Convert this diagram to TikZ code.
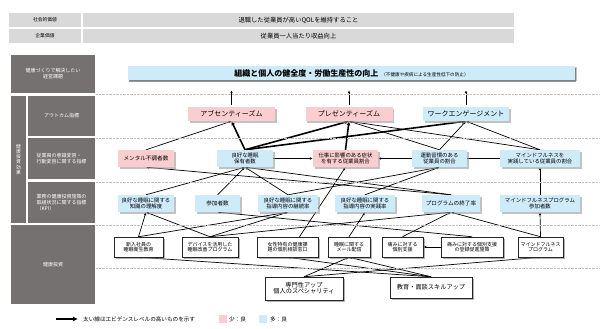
\documentclass[tikz,border=0pt]{standalone}
\usepackage{fontspec}
\setmainfont{Noto Sans CJK JP}
\usetikzlibrary{arrows.meta,shadows,backgrounds}
\definecolor{lowgood}{RGB}{250,206,206}
\definecolor{highgood}{RGB}{206,235,250}
\definecolor{panel}{RGB}{118,113,113}
\definecolor{rowgray}{RGB}{217,217,217}
\newcommand{\jfs}[1]{\fontsize{#1}{#1}\selectfont}
\newcommand{\jfl}[2]{\fontsize{#1}{#2}\selectfont}

\begin{document}
\begin{tikzpicture}[x=1pt, y=-1pt,
  cell/.style={fill=rowgray, inner sep=0pt, minimum height=14pt},
  side/.style={fill=panel, text=white, inner sep=0pt, align=center, font=\jfl{5}{6.2}},
  lowbox/.style={fill=lowgood, inner sep=0pt, align=center,
    drop shadow={shadow xshift=1.5pt, shadow yshift=-1.5pt, fill=black!40, opacity=.6}},
  highbox/.style={fill=highgood, inner sep=0pt, align=center,
    drop shadow={shadow xshift=1.5pt, shadow yshift=-1.5pt, fill=black!40, opacity=.6}},
  invest/.style={draw=black!85, line width=.5pt, fill=white, inner sep=0pt, align=center,
    font=\jfs{5}, drop shadow={shadow xshift=1.5pt, shadow yshift=-1.5pt, fill=black!50, opacity=.6}},
  sep/.style={densely dotted, black!25, line width=.4pt},
  arr/.style={-{Latex[length=3pt,width=2.6pt]}, line width=.7pt},
  thickarr/.style={-{Latex[length=4pt,width=4pt]}, line width=1.6pt}]

\useasboundingbox (0,0) rectangle (608,329);

% value rows
\node[cell, minimum width=72pt, font=\jfs{4.8}] (socval) at (45,20) {社会的価値};
\node[cell, minimum width=431pt, font=\jfs{6.3}] (socgoal) at (298.5,20) {退職した従業員が高いQOLを維持すること};
\node[cell, minimum width=72pt, font=\jfs{4.8}] (corpval) at (45,36) {企業価値};
\node[cell, minimum width=431pt, font=\jfs{6.3}] (corpgoal) at (298.5,36) {従業員一人当たり収益向上};

% side panel
\node[side, minimum width=84pt, minimum height=38pt] (issue) at (53,74) {健康づくりで解決したい\\経営課題};
\node[side, minimum width=15pt, minimum height=127pt, font=\jfl{4.8}{5.2}] (effect) at (18.5,159.5)
  {健\\康\\投\\資\\効\\果};
\node[side, minimum width=67pt, minimum height=40pt] (outlbl) at (61.5,116) {アウトカム指標};
\node[side, minimum width=67pt, minimum height=41pt, align=left] (behlbl) at (61.5,158.5)
  {従業員の意識変容・\\行動変容に関する指標};
\node[side, minimum width=67pt, minimum height=41pt, align=left] (kpilbl) at (61.5,202.5)
  {業務の健康投資施策の\\取組状況に関する指標\\（KPI）};
\node[side, minimum width=84pt, minimum height=79pt] (invlbl) at (53,264.5) {健康投資};

% separators
\foreach \yy in {94,138,182,225,268}
  \draw[sep] (96,\yy) -- (600,\yy);

% management issue
\node[highbox, minimum width=447pt, minimum height=14pt,
  drop shadow={shadow xshift=1pt, shadow yshift=-2.5pt, fill=black!60, opacity=.7}] (banner) at (351.5,73)
  {{\jfs{8}\bfseries 組織と個人の健全度・労働生産性の向上}\hspace{3pt}{\jfs{4.6}（不健康や疾病による生産性低下の防止）}};

% outcomes
\node[lowbox, minimum width=87pt, minimum height=14pt, font=\jfs{7}] (absent) at (231.5,114) {アブセンティーズム};
\node[lowbox, minimum width=87pt, minimum height=14pt, font=\jfs{7}] (present) at (349,114) {プレゼンティーズム};
\node[highbox, minimum width=86pt, minimum height=14pt, font=\jfs{7}] (engage) at (466,114) {ワークエンゲージメント};

% behaviour
\node[lowbox, minimum width=56pt, minimum height=17pt, font=\jfs{5.6}] (mental) at (146,158.5) {メンタル不調者数};
\node[highbox, minimum width=56pt, minimum height=17pt, font=\jfs{5.4}] (sleepok) at (245,158.5) {良好な睡眠\\保有者数};
\node[lowbox, minimum width=65pt, minimum height=17pt, font=\jfs{5.4}] (symptom) at (345.5,158.5) {仕事に影響のある症状\\を有する従業員割合};
\node[highbox, minimum width=55pt, minimum height=17pt, font=\jfs{5.4}] (exercise) at (439.5,158.5) {運動習慣のある\\従業員の割合};
\node[highbox, minimum width=80pt, minimum height=17pt, font=\jfs{5.4}] (mindprac) at (540,158.5) {マインドフルネスを\\実践している従業員の割合};

% KPI
\node[highbox, minimum width=56pt, minimum height=17pt, font=\jfs{5.4}] (knowledge) at (146,203.5) {良好な睡眠に関する\\知識の理解度};
\node[highbox, minimum width=45pt, minimum height=17pt, font=\jfs{5.6}] (partic) at (217.5,203.5) {参加者数};
\node[highbox, minimum width=60pt, minimum height=17pt, font=\jfs{5.4}] (contin) at (288,203.5) {良好な睡眠に関する\\指導内容の継続率};
\node[highbox, minimum width=60pt, minimum height=17pt, font=\jfs{5.4}] (practice) at (365,203.5) {良好な睡眠に関する\\指導内容の実践率};
\node[highbox, minimum width=58pt, minimum height=17pt, font=\jfs{5.6}] (finish) at (451,203.5) {プログラムの終了率};
\node[highbox, minimum width=80pt, minimum height=17pt, font=\jfs{5.4}] (mindpart) at (540,203.5) {マインドフルネスプログラム\\参加者数};

% investment
\node[invest, minimum width=49pt, minimum height=20pt] (newhire) at (138.5,247) {新入社員の\\睡眠衛生教育};
\node[invest, minimum width=56pt, minimum height=20pt] (device) at (210,247) {デバイスを活用した\\睡眠改善プログラム};
\node[invest, minimum width=61pt, minimum height=20pt] (women) at (287.5,247) {女性特有の健康課\\題の個別相談窓口};
\node[invest, minimum width=42pt, minimum height=20pt] (mail) at (349,247) {睡眠に関する\\メール配信};
\node[invest, minimum width=41pt, minimum height=20pt] (painsup) at (402.5,247) {痛みに対する\\個別支援};
\node[invest, minimum width=62pt, minimum height=20pt] (painreg) at (472,247) {痛みに対する個別支援\\の登録促進施策};
\node[invest, minimum width=45pt, minimum height=20pt] (mindprog) at (540.5,247) {マインドフルネス\\プログラム};

\node[invest, minimum width=78pt, minimum height=23pt, font=\jfs{6.2}] (expert) at (304,288.5) {専門性アップ\\個人のスペシャリティ};
\node[invest, minimum width=82pt, minimum height=21pt, font=\jfs{6.2}] (skill) at (431,287.5) {教育・面談スキルアップ};

% legend
\coordinate (legtail) at (56,319);
\coordinate (leghead) at (78,319);
\draw[-{Latex[length=5pt,width=5pt]}, line width=1.8pt] (legtail) -- (leghead);
\node[anchor=west, inner sep=0pt, font=\jfs{5.6}] (legtext) at (83,319) {太い線はエビデンスレベルの高いものを示す};
\node[fill=lowgood, minimum size=8pt, inner sep=0pt] (legpink) at (222.5,319) {};
\node[anchor=west, inner sep=0pt, font=\jfs{5.6}] (legpinktxt) at (229,319) {少：良};
\node[fill=highgood, minimum size=8pt, inner sep=0pt] (legblue) at (262.5,319) {};
\node[anchor=west, inner sep=0pt, font=\jfs{5.6}] (legbluetxt) at (270,319) {多：良};

\begin{scope}[on background layer]
% outcomes -> issue
\foreach \o in {absent,present,engage}
  \draw[arr, line width=.8pt, shorten <=2pt, shorten >=10pt] (\o.north) -- (\o.north |- banner.south);

% behaviour -> outcomes
\draw[arr] (mental.north) -- (absent.south);
\draw[thickarr] (sleepok.north) -- (absent.south);
\draw[thickarr] (sleepok.north) -- (present.south);
\draw[thickarr] (sleepok.north) -- (engage.south);
\draw[thickarr] (symptom.north) -- (present.south);
\draw[arr] (exercise.north) -- (present.south);
\draw[arr] (exercise.north) -- (engage.south);
\draw[arr] (mindprac.north) -- (present.south);
\draw[arr] (mindprac.north) -- (engage.south);

\draw[arr] (sleepok.east) -- (symptom.west);
\draw[arr] (exercise.west) -- (symptom.east);
\draw[line width=.7pt] (mindprac.west) -- (exercise.east);

% KPI -> behaviour
\draw[arr] (knowledge.north) -- (sleepok.south);
\draw[arr] (partic.north) -- (sleepok.south);
\draw[arr] (contin.north) -- (sleepok.south);
\draw[arr] (finish.north) -- (sleepok.south);
\draw[arr] (finish.north) -- (mental.south);
\draw[arr] (contin.north) -- (exercise.south);
\draw[arr] (practice.north) -- (exercise.south);
\draw[arr] (mindpart.north) -- (mindprac.south);

% investment -> KPI
\draw[arr] (newhire.north) -- (knowledge.south);
\draw[arr] (newhire.north) -- (contin.south);
\draw[arr] (device.north) -- (knowledge.south);
\draw[arr] (device.north) -- (contin.south);
\draw[arr] (device.north) -- (finish.south);
\draw[arr] ([xshift=12pt]women.north) -- (symptom.south);
\draw[arr] (mail.north) -- (practice.south);
\draw[arr] (painsup.north) -- (finish.south);
\draw[arr] (painreg.north) -- (partic.south);
\draw[arr] (mindprog.north) -- (mindpart.south);
\draw[arr] (mindprog.north) -- (finish.south);
\draw[arr] (painreg.west) -- (painsup.east);

% upskilling -> investment
\draw[arr] (expert.north) -- (mail.south);
\draw[arr] (expert.north) -- (mindprog.south);
\draw[arr] (skill.north) -- (newhire.south);
\draw[arr] (skill.north) -- (women.south);
\draw[arr] (skill.north) -- (mail.south);
\end{scope}
\end{tikzpicture}
\end{document}
